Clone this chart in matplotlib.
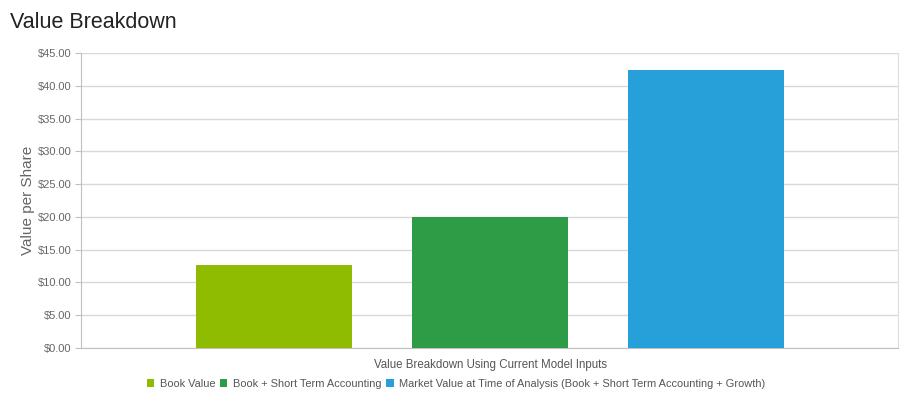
import matplotlib
matplotlib.use("Agg")
import matplotlib.pyplot as plt
from matplotlib.patches import Patch

plt.rcParams['font.family'] = ['Liberation Sans', 'DejaVu Sans']

series = ['Book Value', 'Book + Short Term Accounting',
          'Market Value at Time of Analysis (Book + Short Term Accounting + Growth)']
values = [12.65, 20.0, 42.4]
colors = ['#8fbb00', '#2e9b47', '#27a0da']
category = 'Value Breakdown Using Current Model Inputs'
yticks = [0, 5, 10, 15, 20, 25, 30, 35, 40, 45]

fig = plt.figure(figsize=(9.14, 4.09), dpi=100)
ax = fig.add_axes([81/914, 1 - 348/409, 817/914, 295/409])

for i, (v, c) in enumerate(zip(values, colors)):
    ax.bar(i, v, width=0.722, color=c, zorder=3)

ax.set_xlim(-0.894, 2.889)
ax.set_ylim(0, 45)
ax.set_yticks(yticks)
ax.set_yticklabels(['$%.2f' % t for t in yticks], color='#666666', fontsize=8)
ax.yaxis.grid(True, color='#d8d8d8', linewidth=1, zorder=0)
ax.set_xticks([1])
ax.set_xticklabels([category], color='#555555', fontsize=8.3)
ax.tick_params(axis='x', length=0, pad=8)
ax.tick_params(axis='y', length=4, color='#c0c0c0', pad=3)

ax.spines['top'].set_visible(False)
ax.spines['left'].set_color('#c0c0c0')
ax.spines['bottom'].set_color('#c0c0c0')
ax.spines['right'].set_color('#dddddd')

ax.set_ylabel('Value per Share', color='#666666', fontsize=11)
ax.yaxis.set_label_coords(-46/817, 0.5)

fig.text(10/914, 1 - 22/409, 'Value Breakdown', fontsize=15.5, color='#222222', va='center')

handles = [Patch(facecolor=c, edgecolor='none') for c in colors]
fig.legend(handles, series, loc='center', bbox_to_anchor=(456/914, 1 - 384/409),
           ncol=3, frameon=False, fontsize=7.9, handlelength=0.7, handleheight=0.7,
           handletextpad=0.5, columnspacing=0.4, labelcolor='#555555')

fig.savefig('out.png', dpi=100)
